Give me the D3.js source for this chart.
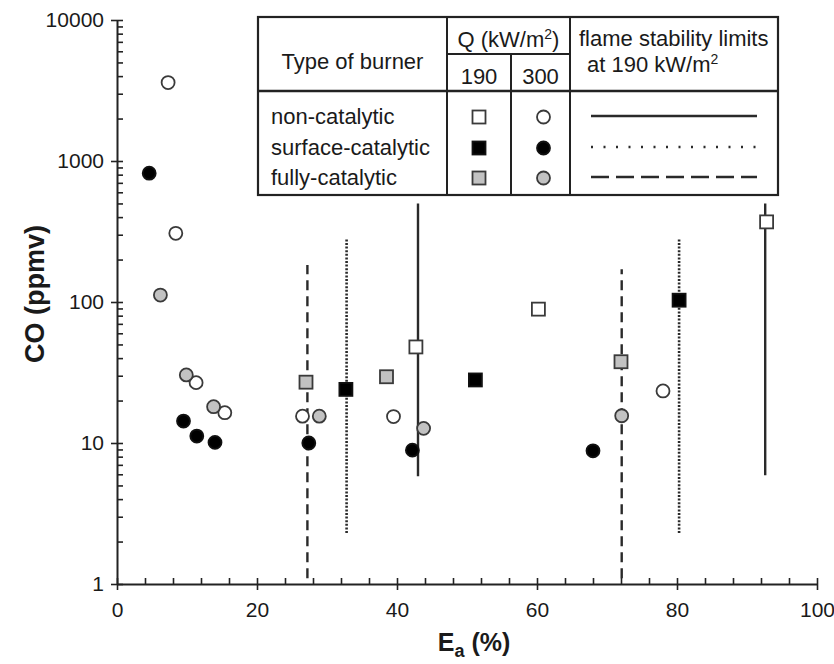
<!DOCTYPE html>
<html><head><meta charset="utf-8">
<script src="https://cdn.jsdelivr.net/npm/d3@7"></script>
<style>
body{margin:0;background:#fff}
svg{display:block}
text{font-family:"Liberation Sans",Arial,Helvetica,sans-serif;fill:#1a1a1a}
</style>
</head><body>
<svg id="c" width="834" height="664"></svg>
<script>
// ---- data (E_a in %, CO in ppmv) ----
const nonCat190  = [{e:42.7,co:48},{e:60.2,co:89},{e:92.8,co:370}];
const surfCat190 = [{e:32.7,co:24},{e:51.2,co:28},{e:80.3,co:103}];
const fullCat190 = [{e:27.0,co:27},{e:38.5,co:29.5},{e:72.0,co:37.7}];
const nonCat300  = [{e:7.3,co:3600},{e:8.4,co:307},{e:11.3,co:26.8},{e:15.4,co:16.4},{e:26.5,co:15.5},{e:39.5,co:15.4},{e:78.0,co:23.4}];
const surfCat300 = [{e:4.6,co:820},{e:9.5,co:14.3},{e:11.4,co:11.2},{e:14.0,co:10.1},{e:27.4,co:10},{e:42.2,co:8.9},{e:68.0,co:8.8}];
const fullCat300 = [{e:6.2,co:112},{e:9.9,co:30.4},{e:13.8,co:18.1},{e:28.9,co:15.5},{e:43.8,co:12.7},{e:72.1,co:15.6}];
// flame stability limits at 190 kW/m2 (vertical ranges)
const limitsNonCat  = [{e:43.0,lo:5.8,hi:500},{e:92.6,lo:5.9,hi:500}];
const limitsSurfCat = [{e:32.8,lo:2.3,hi:283},{e:80.3,lo:2.3,hi:283}];
const limitsFullCat = [{e:27.2,lo:1.1,hi:183},{e:72.1,lo:1.1,hi:171}];
// ticks
const xMajorTicks = [0,20,40,60,80,100];
const xMinorTicks = d3.range(0,101,4);
const yMajorTicks = [1,10,100,1000,10000];
const yMinorTicks = [1,10,100,1000].flatMap(d=>[2,3,4,5,6,7,8,9].map(k=>k*d));
const burnerTypes = ["non-catalytic","surface-catalytic","fully-catalytic"];

// ---- chart ----
const svg = d3.select("#c");
const x = d3.scaleLinear().domain([0,100]).range([117,817]);
const y = d3.scaleLog().domain([1,10000]).range([584,20]);
const ink = "#222";

// axes
const gx = svg.append("g").attr("transform","translate(0,584)");
gx.call(d3.axisBottom(x).tickValues(xMajorTicks).tickSize(6).tickSizeOuter(0).tickPadding(12).tickFormat(d3.format("d")));
const gxt = svg.append("g").attr("transform","translate(0,584)");
gxt.call(d3.axisTop(x).tickValues(xMinorTicks).tickSize(6).tickSizeOuter(0).tickFormat(""));
const gy = svg.append("g").attr("transform","translate(117,0)");
gy.call(d3.axisLeft(y).tickValues(yMajorTicks).tickSize(6).tickSizeOuter(0).tickPadding(7).tickFormat(d3.format("d")));
const gyr = svg.append("g").attr("transform","translate(117,0)");
gyr.call(d3.axisRight(y).tickValues(yMajorTicks.concat(yMinorTicks)).tickSize(6).tickSizeOuter(0).tickFormat(""));
[gx,gxt,gy,gyr].forEach(g=>{
  g.selectAll("path.domain").attr("stroke",ink).attr("stroke-width",2);
  g.selectAll(".tick line").attr("stroke",ink).attr("stroke-width",1.6);
  g.selectAll(".tick text").attr("font-size",21).attr("font-family",'"Liberation Sans",Arial,sans-serif').attr("fill","#1a1a1a");
});
gxt.select("path.domain").remove(); gyr.select("path.domain").remove();

// axis titles
svg.append("text").attr("transform","translate(44,294) rotate(-90)")
  .attr("text-anchor","middle").attr("font-size",27).attr("font-weight","bold").text("CO (ppmv)");
const xt = svg.append("text").attr("x",474).attr("y",651).attr("text-anchor","middle")
  .attr("font-size",25).attr("font-weight","bold");
xt.append("tspan").text("E");
xt.append("tspan").attr("font-size",18).attr("dy",6).text("a");
xt.append("tspan").attr("dy",-6).text(" (%)");

// stability limit lines
const lineStyles = [
  {data:limitsNonCat, dash:null, w:2.4},
  {data:limitsSurfCat, dash:"2,1.6", w:2.6},
  {data:limitsFullCat, dash:"10,6", w:2.4}
];
lineStyles.forEach(s=>{
  svg.append("g").selectAll("line").data(s.data).join("line")
    .attr("x1",d=>x(d.e)).attr("x2",d=>x(d.e))
    .attr("y1",d=>y(d.lo)).attr("y2",d=>y(d.hi))
    .attr("stroke","#2a2a2a").attr("stroke-width",s.w)
    .attr("stroke-dasharray",s.dash);
});

// markers
const fills = ["#ffffff","#000000","#c2c2c2"];
const mStroke = "#3a3a3a";
const sq = 13, rr = 6.5;
function squares(data, fill){
  svg.append("g").selectAll("rect").data(data).join("rect")
    .attr("x",d=>x(d.e)-sq/2).attr("y",d=>y(d.co)-sq/2)
    .attr("width",sq).attr("height",sq)
    .attr("fill",fill).attr("stroke",fill==="#000000"?"#111":mStroke).attr("stroke-width",1.8);
}
function circles(data, fill){
  svg.append("g").selectAll("circle").data(data).join("circle")
    .attr("cx",d=>x(d.e)).attr("cy",d=>y(d.co)).attr("r",rr)
    .attr("fill",fill).attr("stroke",fill==="#000000"?"#111":mStroke).attr("stroke-width",1.8);
}
circles(nonCat300, fills[0]); circles(surfCat300, fills[1]); circles(fullCat300, fills[2]);
squares(nonCat190, fills[0]); squares(surfCat190, fills[1]); squares(fullCat190, fills[2]);

// ---- legend table ----
const L = svg.append("g");
const tl=258, tr=778, tt=17, tb=195;
const c1=447, c2=511, c3=570, hQ=54, hH=91;
L.append("rect").attr("x",tl).attr("y",tt).attr("width",tr-tl).attr("height",tb-tt)
  .attr("fill","#fff").attr("stroke",ink).attr("stroke-width",2.2);
const seg = (x1,y1,x2,y2,w)=>L.append("line").attr("x1",x1).attr("y1",y1).attr("x2",x2).attr("y2",y2)
  .attr("stroke",ink).attr("stroke-width",w||2);
seg(c1,tt,c1,tb); seg(c3,tt,c3,tb); seg(c2,hQ,c2,tb); seg(c1,hQ,c3,hQ); seg(tl,hH,tr,hH,2.6);
const fs = 22;
L.append("text").attr("x",(tl+c1)/2).attr("y",69).attr("text-anchor","middle").attr("font-size",fs).text("Type of burner");
const q = L.append("text").attr("x",(c1+c3)/2).attr("y",47).attr("text-anchor","middle").attr("font-size",fs);
q.append("tspan").text("Q (kW/m");
q.append("tspan").attr("font-size",14).attr("dy",-8).text("2");
q.append("tspan").attr("dy",8).text(")");
L.append("text").attr("x",(c1+c2)/2).attr("y",84).attr("text-anchor","middle").attr("font-size",fs).text("190");
L.append("text").attr("x",(c2+c3)/2).attr("y",84).attr("text-anchor","middle").attr("font-size",fs).text("300");
L.append("text").attr("x",579).attr("y",46).attr("font-size",fs).text("flame stability limits");
const a = L.append("text").attr("x",587).attr("y",72).attr("font-size",fs);
a.append("tspan").text("at 190 kW/m");
a.append("tspan").attr("font-size",14).attr("dy",-8).text("2");
const rowY = [117,148,178];
burnerTypes.forEach((t,i)=>{
  L.append("text").attr("x",271).attr("y",rowY[i]+7).attr("font-size",fs).text(t);
  L.append("rect").attr("x",(c1+c2)/2-sq/2).attr("y",rowY[i]-sq/2).attr("width",sq).attr("height",sq)
    .attr("fill",fills[i]).attr("stroke",i===1?"#111":mStroke).attr("stroke-width",1.8);
  L.append("circle").attr("cx",(c2+c3)/2+3).attr("cy",rowY[i]).attr("r",rr)
    .attr("fill",fills[i]).attr("stroke",i===1?"#111":mStroke).attr("stroke-width",1.8);
  L.append("line").attr("x1",591).attr("x2",757).attr("y1",rowY[i]-1).attr("y2",rowY[i]-1)
    .attr("stroke","#2a2a2a").attr("stroke-width",lineStyles[i].w)
    .attr("stroke-dasharray",i===0?null:(i===1?"2,10.5":"18,7"));
});
</script>
</body></html>
